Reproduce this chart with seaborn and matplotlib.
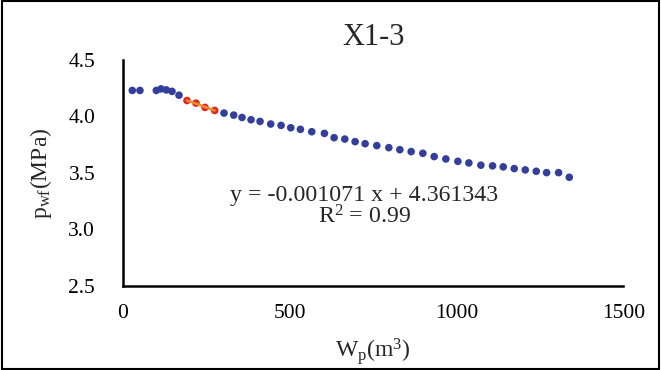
import matplotlib
matplotlib.use("Agg")
import matplotlib.pyplot as plt
import seaborn as sns
import pandas as pd
import numpy as np
from matplotlib.patches import Rectangle
from matplotlib.ticker import FormatStrFormatter

# ---- data ----
blue_x = [28, 51, 100, 114, 130, 147, 168,
          303, 332, 357, 384, 411, 443, 474, 503, 532, 566, 604, 633, 665,
          696, 726, 761, 797, 830, 864, 899, 933, 968, 1004, 1037, 1073,
          1108, 1140, 1173, 1206, 1239, 1270, 1306, 1338]
blue_y = [4.230, 4.230, 4.230, 4.244, 4.235, 4.222, 4.188,
          4.030, 4.012, 3.991, 3.971, 3.956, 3.933, 3.921, 3.900, 3.886,
          3.865, 3.850, 3.812, 3.800, 3.777, 3.759, 3.742, 3.724, 3.706,
          3.689, 3.674, 3.645, 3.624, 3.603, 3.589, 3.569, 3.563, 3.554,
          3.539, 3.527, 3.515, 3.503, 3.503, 3.462]
red_x = [192, 219, 246, 275]
red_y = [4.141, 4.118, 4.080, 4.053]
fit_slope = -0.001071
fit_intercept = 4.361343
r2 = 0.99
title = "X1-3"
x_ticks = [0, 500, 1000, 1500]
y_ticks = [2.5, 3.0, 3.5, 4.0, 4.5]

sns.set_style("white")
plt.rcParams['font.family'] = ['Liberation Serif', 'DejaVu Serif']
plt.rcParams['mathtext.fontset'] = 'custom'
plt.rcParams['mathtext.rm'] = 'Liberation Serif'
plt.rcParams['mathtext.it'] = 'Liberation Serif:italic'

blue = "#343F9C"
red = "#E4261E"
orange = "#F08A30"

fig = plt.figure(figsize=(6.61, 3.70), dpi=100)
ax = fig.add_axes([0.186, 0.227, 0.757, 0.611])

df_b = pd.DataFrame({"x": blue_x, "y": blue_y})
df_r = pd.DataFrame({"x": red_x, "y": red_y})
sns.scatterplot(data=df_b, x="x", y="y", ax=ax, color=blue, s=30,
                edgecolor="none", zorder=3)
sns.scatterplot(data=df_r, x="x", y="y", ax=ax, color=red, s=30,
                edgecolor="none", zorder=3)
fx = np.array([red_x[0], red_x[-1]])
ax.plot(fx, fit_slope * fx + fit_intercept - 0.014, color=orange, lw=1.8, zorder=4)

ax.set_xlim(0, 1500)
ax.set_ylim(2.5, 4.5)
ax.set_xticks(x_ticks)
ax.set_yticks(y_ticks)
ax.yaxis.set_major_formatter(FormatStrFormatter('%.1f'))
for s in ["top", "right"]:
    ax.spines[s].set_visible(False)
for s in ["left", "bottom"]:
    ax.spines[s].set_linewidth(1.8)
    ax.spines[s].set_color("black")
ax.tick_params(axis="both", direction="in", length=5, width=1.5, colors="black",
               labelsize=15.5)
ax.tick_params(axis="y", pad=20)
ax.tick_params(axis="x", pad=13)

ax.set_xlabel(r"W$_\mathrm{p}$(m$^3$)", fontsize=17, labelpad=9)
ax.set_ylabel(r"p$_\mathrm{wf}$(MPa)", fontsize=17, labelpad=10)
ax.set_title(title, fontsize=22, pad=11)

ax.text(723, 3.30, "y = -0.001071 x + 4.361343", fontsize=17.2, ha="center", va="center")
ax.text(723, 3.11, r"R$^2$ = 0.99", fontsize=17.2, ha="center", va="center")

fig.patches.append(Rectangle((0.003, 0.004), 0.994, 0.992, transform=fig.transFigure,
                             fill=False, edgecolor="black", lw=1.5))
fig.savefig("out.png", dpi=100)
